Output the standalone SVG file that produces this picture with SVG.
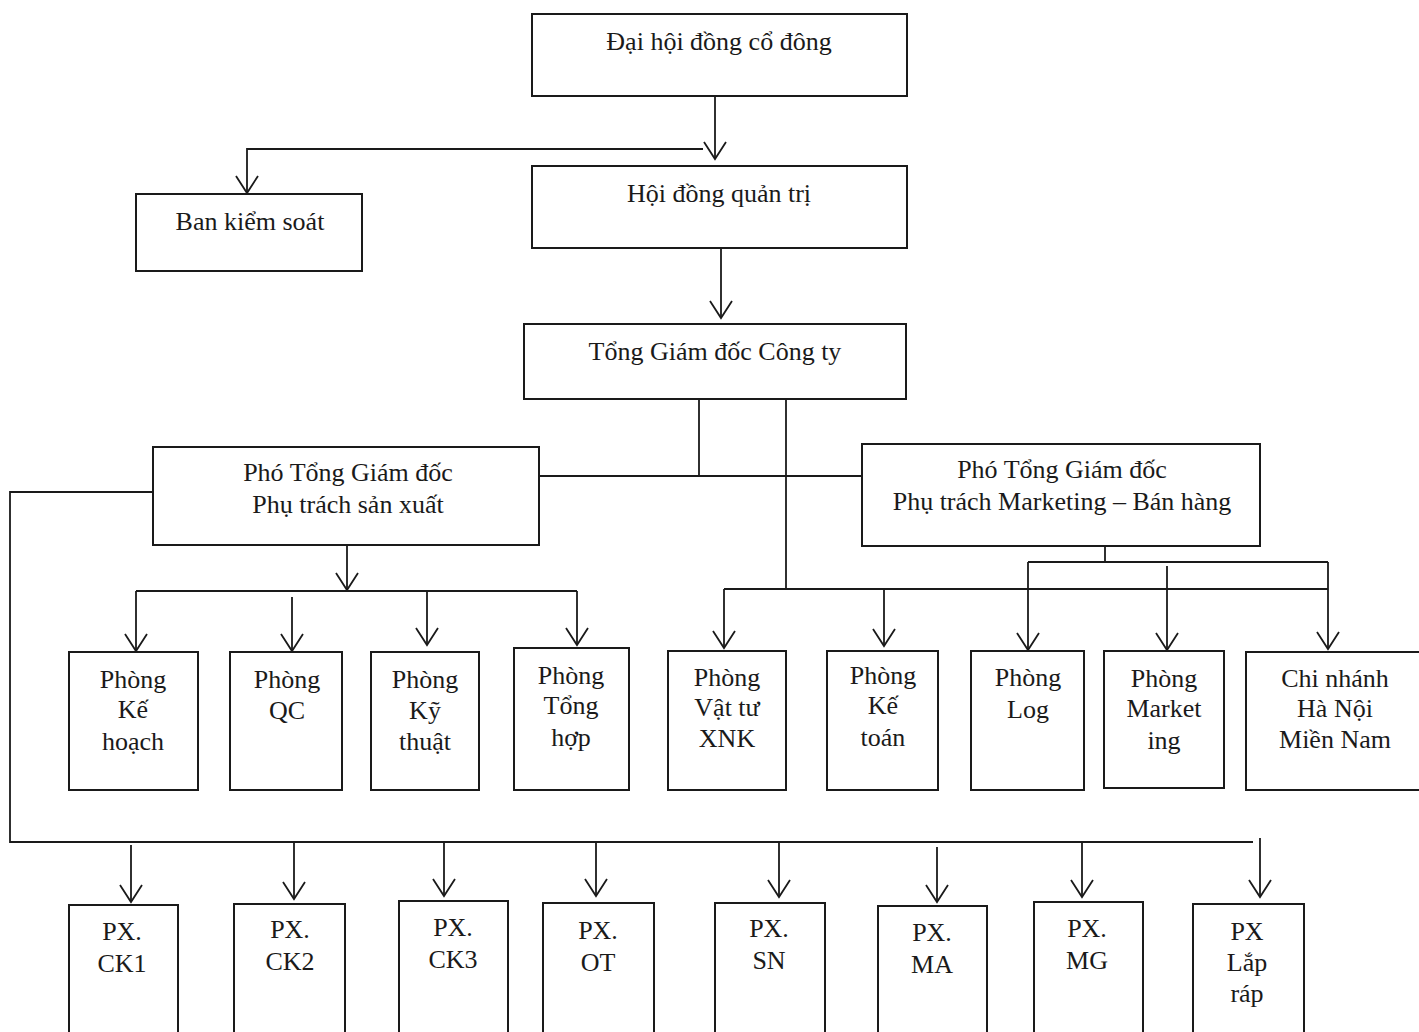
<svg xmlns="http://www.w3.org/2000/svg" width="1419" height="1032" viewBox="0 0 1419 1032">
<style>
.box{fill:#fff;stroke:#1a1a1a;stroke-width:2}
.ln{fill:none;stroke:#1a1a1a;stroke-width:1.8}
text{font-family:"Liberation Serif","Times New Roman",serif;font-size:26px;fill:#1a1a1a;text-anchor:middle}
</style>
<defs>
<marker id="ah" markerUnits="userSpaceOnUse" markerWidth="22" markerHeight="26" viewBox="-20 -13 22 26" refX="0" refY="0" orient="auto">
<path d="M-17,-11 L0,0 L-17,11" fill="none" stroke="#1a1a1a" stroke-width="1.8"/>
</marker>
</defs>
<rect width="1419" height="1032" fill="#fff"/>
<g id="connectors">
<line class="ln" x1="715" y1="96" x2="715" y2="159" marker-end="url(#ah)"/>
<polyline class="ln" points="703,149 247,149 247,193" marker-end="url(#ah)"/>
<line class="ln" x1="721" y1="249" x2="721" y2="318" marker-end="url(#ah)"/>
<polyline class="ln" points="699,398 699,476"/>
<line class="ln" x1="538" y1="476" x2="862" y2="476"/>
<polyline class="ln" points="786,398 786,589"/>
<polyline class="ln" points="153,492 10,492 10,842 1253,842"/>
<line class="ln" x1="347" y1="545" x2="347" y2="590" marker-end="url(#ah)"/>
<line class="ln" x1="136" y1="591" x2="577" y2="591"/>
<line class="ln" x1="136" y1="591" x2="136" y2="651" marker-end="url(#ah)"/>
<line class="ln" x1="292" y1="597" x2="292" y2="651" marker-end="url(#ah)"/>
<line class="ln" x1="427" y1="591" x2="427" y2="645" marker-end="url(#ah)"/>
<line class="ln" x1="577" y1="591" x2="577" y2="645" marker-end="url(#ah)"/>
<line class="ln" x1="724" y1="589" x2="1328" y2="589"/>
<line class="ln" x1="724" y1="589" x2="724" y2="648" marker-end="url(#ah)"/>
<line class="ln" x1="884" y1="589" x2="884" y2="646" marker-end="url(#ah)"/>
<line class="ln" x1="1105" y1="537" x2="1105" y2="562"/>
<line class="ln" x1="1028" y1="562" x2="1328" y2="562"/>
<line class="ln" x1="1028" y1="562" x2="1028" y2="650" marker-end="url(#ah)"/>
<line class="ln" x1="1167" y1="566" x2="1167" y2="650" marker-end="url(#ah)"/>
<line class="ln" x1="1328" y1="562" x2="1328" y2="649" marker-end="url(#ah)"/>
<line class="ln" x1="131" y1="845" x2="131" y2="902" marker-end="url(#ah)"/>
<line class="ln" x1="294" y1="842" x2="294" y2="899" marker-end="url(#ah)"/>
<line class="ln" x1="444" y1="842" x2="444" y2="896" marker-end="url(#ah)"/>
<line class="ln" x1="596" y1="842" x2="596" y2="896" marker-end="url(#ah)"/>
<line class="ln" x1="779" y1="842" x2="779" y2="897" marker-end="url(#ah)"/>
<line class="ln" x1="937" y1="847" x2="937" y2="902" marker-end="url(#ah)"/>
<line class="ln" x1="1082" y1="842" x2="1082" y2="897" marker-end="url(#ah)"/>
<line class="ln" x1="1260" y1="838" x2="1260" y2="897" marker-end="url(#ah)"/>
</g>
<g id="dhdcd"><rect class="box" x="532" y="14" width="375" height="82"/><text x="719" y="50">Đại hội đồng cổ đông</text></g>
<g id="hdqt"><rect class="box" x="532" y="166" width="375" height="82"/><text x="719" y="202">Hội đồng quản trị</text></g>
<g id="bks"><rect class="box" x="136" y="194" width="226" height="77"/><text x="250" y="230">Ban kiểm soát</text></g>
<g id="tgd"><rect class="box" x="524" y="324" width="382" height="75"/><text x="715" y="360">Tổng Giám đốc Công ty</text></g>
<g id="ptgd-sx"><rect class="box" x="153" y="447" width="386" height="98"/><text x="348" y="481">Phó Tổng Giám đốc</text><text x="348" y="513">Phụ trách sản xuất</text></g>
<g id="ptgd-mkt"><rect class="box" x="862" y="444" width="398" height="102"/><text x="1062" y="478">Phó Tổng Giám đốc</text><text x="1062" y="510">Phụ trách Marketing – Bán hàng</text></g>
<g id="p-kehoach"><rect class="box" x="69" y="652" width="129" height="138"/><text x="133" y="688">Phòng</text><text x="133" y="718">Kế</text><text x="133" y="750">hoạch</text></g>
<g id="p-qc"><rect class="box" x="230" y="652" width="112" height="138"/><text x="287" y="688">Phòng</text><text x="287" y="719">QC</text></g>
<g id="p-kythuat"><rect class="box" x="371" y="652" width="108" height="138"/><text x="425" y="688">Phòng</text><text x="425" y="719">Kỹ</text><text x="425" y="750">thuật</text></g>
<g id="p-tonghop"><rect class="box" x="514" y="648" width="115" height="142"/><text x="571" y="684">Phòng</text><text x="571" y="714">Tổng</text><text x="571" y="746">hợp</text></g>
<g id="p-vattu"><rect class="box" x="668" y="651" width="118" height="139"/><text x="727" y="686">Phòng</text><text x="727" y="716">Vật tư</text><text x="727" y="747">XNK</text></g>
<g id="p-ketoan"><rect class="box" x="827" y="651" width="111" height="139"/><text x="883" y="684">Phòng</text><text x="883" y="714">Kế</text><text x="883" y="746">toán</text></g>
<g id="p-log"><rect class="box" x="971" y="651" width="113" height="139"/><text x="1028" y="686">Phòng</text><text x="1028" y="718">Log</text></g>
<g id="p-marketing"><rect class="box" x="1104" y="651" width="120" height="137"/><text x="1164" y="687">Phòng</text><text x="1164" y="717">Market</text><text x="1164" y="749">ing</text></g>
<g id="chinhanh"><rect class="box" x="1246" y="652" width="190" height="138"/><text x="1335" y="687">Chi nhánh</text><text x="1335" y="717">Hà Nội</text><text x="1335" y="748">Miền Nam</text></g>
<g id="px-ck1"><rect class="box" x="69" y="905" width="109" height="140"/><text x="122" y="940">PX.</text><text x="122" y="972">CK1</text></g>
<g id="px-ck2"><rect class="box" x="234" y="904" width="111" height="140"/><text x="290" y="938">PX.</text><text x="290" y="970">CK2</text></g>
<g id="px-ck3"><rect class="box" x="399" y="901" width="109" height="140"/><text x="453" y="936">PX.</text><text x="453" y="968">CK3</text></g>
<g id="px-ot"><rect class="box" x="543" y="903" width="111" height="140"/><text x="598" y="939">PX.</text><text x="598" y="971">OT</text></g>
<g id="px-sn"><rect class="box" x="715" y="903" width="110" height="140"/><text x="769" y="937">PX.</text><text x="769" y="969">SN</text></g>
<g id="px-ma"><rect class="box" x="878" y="906" width="109" height="140"/><text x="932" y="941">PX.</text><text x="932" y="973">MA</text></g>
<g id="px-mg"><rect class="box" x="1034" y="902" width="109" height="140"/><text x="1087" y="937">PX.</text><text x="1087" y="969">MG</text></g>
<g id="px-laprap"><rect class="box" x="1193" y="904" width="111" height="140"/><text x="1247" y="940">PX</text><text x="1247" y="971">Lắp</text><text x="1247" y="1002">ráp</text></g>
</svg>
